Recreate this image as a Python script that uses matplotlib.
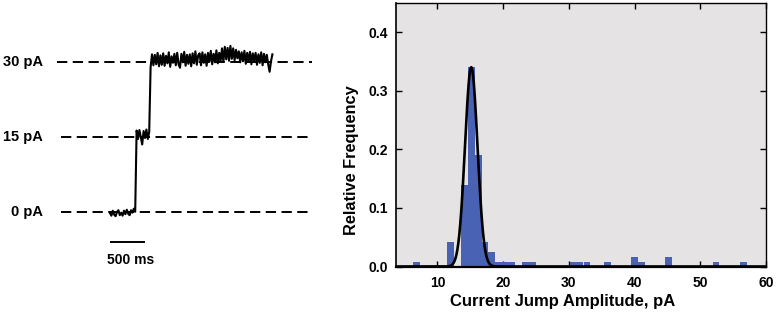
import numpy as np
import matplotlib
matplotlib.use("Agg")
import matplotlib.pyplot as plt

plt.rcParams['font.family'] = ['Liberation Sans', 'DejaVu Sans']
plt.rcParams['font.weight'] = 'bold'

# ---------------- data ----------------
# left panel: current trace (pA), sampled every 20 ms
trace_dt_ms = 20.0
seg_0pA = [-0.3, -0.8, 0.2, -0.6, -0.9, -0.1, 0.3, -0.7, -0.2, -0.8,
           0.2, -0.5, 0.4, -0.4, -0.7, 0.3, -0.2, 0.6, 0.0]
seg_15pA = [16.3, 14.6, 16.4, 15.0, 13.5, 16.2, 14.8, 16.5, 14.6, 16.0]
seg_30pA = [29.0, 31.6, 29.4, 31.5, 29.6, 31.9, 29.2, 31.4, 29.5, 31.8,
            29.3, 31.3, 29.8, 32.0, 29.1, 31.2, 29.9, 31.7, 29.4, 31.9,
            29.6, 28.9, 31.7, 30.0, 32.1, 29.3, 31.5, 29.7, 31.6, 29.2,
            31.8, 29.8, 32.2, 29.5, 31.4, 31.8, 29.4, 32.0, 29.9, 31.6,
            29.3, 31.9, 30.1, 32.3, 29.6, 31.7, 30.0, 32.4, 29.8, 31.9,
            30.2, 32.8, 30.1, 33.1, 30.6, 32.9, 30.3, 33.3, 30.7, 32.8,
            30.4, 32.5, 30.8, 32.2, 30.0, 32.0, 30.2, 32.3, 29.7, 31.9,
            30.1, 32.1, 29.6, 31.8, 30.3, 31.9, 29.5, 31.6, 29.9, 32.0,
            29.4, 31.7, 30.0, 31.5, 29.6, 28.1, 30.2, 31.6]
level_values = [0, 15, 30]
level_labels = ['0 pA', '15 pA', '30 pA']
scalebar_ms = 500
scalebar_label = '500 ms'

# right panel: histogram of current jump amplitudes
bin_centers = [6.85, 12.05, 14.1, 15.15, 16.2, 17.25, 18.25, 19.3, 20.35, 21.35,
               23.45, 24.45, 30.7, 31.7, 32.75, 35.85, 40.0, 41.05, 45.15,
               52.4, 56.55]
rel_freq = [0.008, 0.042, 0.139, 0.340, 0.190, 0.042, 0.025, 0.008, 0.008, 0.008,
            0.008, 0.008, 0.008, 0.008, 0.008, 0.008, 0.017, 0.008, 0.017,
            0.008, 0.008]
fit_mu, fit_sigma, fit_amp = 15.15, 0.95, 0.34
x_ticks = [10, 20, 30, 40, 50, 60]
y_ticks = [0.0, 0.1, 0.2, 0.3, 0.4]

# ---------------- figure ----------------
W, H = 777, 314
fig = plt.figure(figsize=(W / 100, H / 100), dpi=100)

# ---- left panel (trace) ----
ax0 = fig.add_axes([0, 0, 330 / W, 1])
ax0.axis('off')
ms_per_px = 500 / 35.0
pA_px = (211.7 - 62.3) / 30.0
ax0.set_xlim(-110 * ms_per_px, 220 * ms_per_px)
ax0.set_ylim(-(314 - 211.7) / pA_px, 211.7 / pA_px)

trace = np.array(seg_0pA + seg_15pA + seg_30pA)
t = np.arange(len(trace)) * trace_dt_ms

starts_px = {0: 61, 15: 61, 30: 57}
for lv, lab in zip(level_values, level_labels):
    x_start = (starts_px[lv] - 110) * ms_per_px
    x_end = (312 - 110) * ms_per_px
    ax0.plot([x_start, x_end], [lv, lv], color='black', lw=1.4,
             linestyle=(0, (5.3, 2.8)), solid_capstyle='butt')
    ax0.text((42.7 - 110) * ms_per_px, lv, lab, ha='right', va='center',
             fontsize=10.5, fontweight='bold')

ax0.plot(t, trace, color='black', lw=1.5)

sb_y = -(241.7 - 211.7) / pA_px
ax0.plot([0, scalebar_ms], [sb_y, sb_y], color='black', lw=1.4,
         solid_capstyle='butt')
ax0.text(290, -(260 - 211.7) / pA_px, scalebar_label, ha='center', va='center',
         fontsize=10, fontweight='bold')

# ---- right panel (histogram) ----
left_px, right_px, top_px, bot_px = 396, 766, 2.8, 266.5
ax = fig.add_axes([left_px / W, (H - bot_px) / H,
                   (right_px - left_px) / W, (bot_px - top_px) / H])
ax.set_facecolor('#E5E3E3')
ax.bar(bin_centers, rel_freq, width=1.035, color='#4A62B4', edgecolor='none',
       zorder=2)
xf = np.linspace(3.7, 60, 1200)
yf = fit_amp * np.exp(-0.5 * ((xf - fit_mu) / fit_sigma) ** 2)
ax.plot(xf, yf, color='black', lw=1.9, zorder=3)

ax.set_xlim(3.7, 60)
ax.set_ylim(0, 0.45)
ax.set_xticks(x_ticks)
ax.set_yticks(y_ticks)
ax.set_xticklabels([str(v) for v in x_ticks], fontsize=10, fontweight='bold')
ax.set_yticklabels(['%.1f' % v for v in y_ticks], fontsize=10, fontweight='bold')
ax.tick_params(direction='in', length=4, width=1.0, top=True, right=True,
               pad=6)
ax.tick_params(axis='x', pad=7)
for s in ax.spines.values():
    s.set_linewidth(1.0)
ax.spines['bottom'].set_linewidth(1.6)
ax.spines['left'].set_linewidth(1.2)

ax.text(0.45, -0.131, 'Current Jump Amplitude, pA', transform=ax.transAxes,
        ha='center', va='center', fontsize=12, fontweight='bold')
ax.text(-0.12, 0.404, 'Relative Frequency', transform=ax.transAxes,
        ha='center', va='center', rotation=90, fontsize=11.8, fontweight='bold')

fig.savefig('out.png', dpi=100)
